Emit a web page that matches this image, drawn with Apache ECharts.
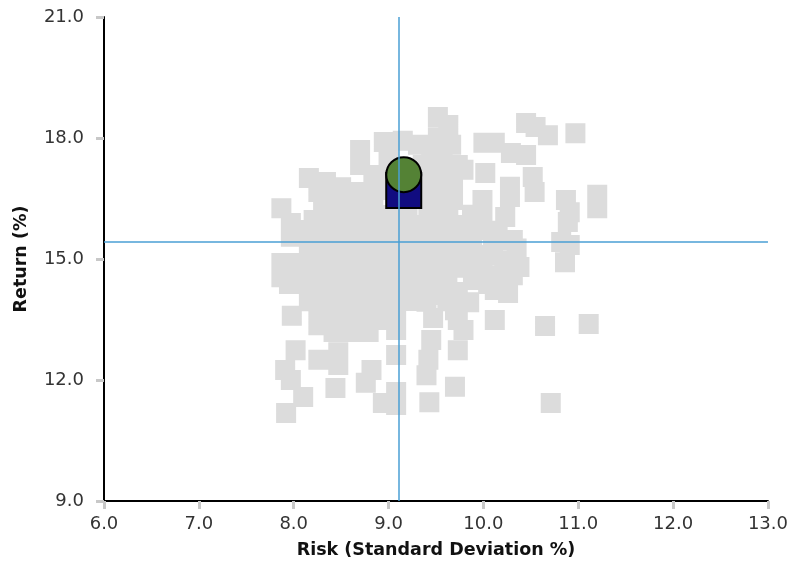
<!DOCTYPE html>
<html>
<head>
<meta charset="utf-8">
<script src="https://cdn.jsdelivr.net/npm/echarts@6/dist/echarts.min.js"></script>
<style>
html,body{margin:0;padding:0;background:#fff;}
#chart{width:791px;height:573px;}
</style>
</head>
<body>
<div id="chart"></div>
<script>
// Peer universe (risk %, return %)
const peerRisk = [
  8.70,8.70,8.95,9.15,9.31,9.52,9.63,9.52,9.66,9.57,9.73,9.36,9.42,9.68,9.31,9.52,9.68,9.42,9.63,9.79,
  9.52,9.29,9.00,8.84,8.87,9.05,8.84,8.58,8.79,8.34,8.16,8.26,7.87,7.97,7.97,8.31,8.52,8.68,8.21,8.42,
  8.63,8.84,8.26,8.47,8.68,8.89,9.10,9.31,9.57,9.79,7.87,8.03,7.87,8.05,8.21,8.42,8.63,8.84,9.05,9.26,
  9.47,9.65,8.26,8.47,8.68,8.89,9.10,9.31,9.52,8.26,8.47,8.68,8.89,9.10,9.31,9.52,9.73,9.89,9.99,9.84,
  8.26,8.47,8.68,8.89,8.26,8.42,8.58,8.79,9.08,9.08,9.47,9.45,9.42,9.40,9.73,9.79,9.73,9.70,7.98,8.02,
  7.91,7.97,8.10,7.92,8.26,8.47,8.47,8.44,8.82,8.76,8.94,9.08,9.08,9.08,9.43,9.70,10.00,10.12,10.45,10.55,
  10.68,10.97,10.29,10.45,10.02,9.79,10.52,10.54,10.28,10.28,9.99,9.99,10.23,9.99,10.15,10.31,10.05,10.26,10.15,10.31,
  10.12,10.26,10.12,10.87,10.91,10.89,11.20,11.20,10.82,10.91,10.86,10.65,11.11,10.71,
  8.37,8.58,9.20,9.55,9.88,
  8.16,8.37,8.58,8.79,9.00,9.20,9.42,9.65,9.88,10.10,
  8.16,8.37,8.58,8.79,9.00,9.20,9.42,9.88,10.10,10.35,
  8.16,8.37,8.58,8.79,9.00,9.20,9.42,9.62,9.80,10.22,10.38,
  7.95,8.16,8.37,8.58,8.79,9.00,9.20,9.42,9.62,10.05,10.20,
  8.16,8.37,8.58,8.79,9.00,9.20,9.40,9.62,9.85,
  8.37,8.58,8.79,8.98,
  8.40,8.50,9.00,9.45,9.60,9.47,9.62,9.22
];
const peerReturn = [
  17.70,17.33,17.90,17.93,17.83,18.52,18.32,18.02,17.83,17.45,17.33,17.33,16.96,16.96,16.59,16.59,16.46,16.21,16.09,15.84,
  15.77,15.84,17.45,17.08,16.71,16.09,16.34,16.66,16.66,16.91,17.01,16.66,16.26,15.89,15.55,16.34,16.34,16.21,15.97,15.97,
  15.84,15.84,15.60,15.52,15.47,15.47,15.47,15.42,15.35,15.42,14.90,14.90,14.55,14.55,15.10,15.10,15.02,15.10,15.02,15.02,
  14.97,15.20,14.68,14.60,14.68,14.60,14.68,14.60,14.53,14.23,14.18,14.23,14.18,14.23,14.18,14.11,14.18,14.48,14.85,15.02,
  13.79,13.73,13.79,13.73,13.36,13.19,13.19,13.19,13.54,13.24,13.54,12.99,12.50,12.12,13.49,13.24,12.74,13.73,13.59,12.74,
  12.25,12.00,11.58,11.18,12.50,12.69,12.37,11.80,12.25,11.93,11.43,11.70,11.38,12.62,11.45,11.83,17.88,17.88,18.37,18.27,
  18.07,18.12,17.63,17.58,17.13,17.21,17.03,16.66,16.79,16.54,16.46,16.16,16.04,15.72,15.55,15.47,15.10,14.97,14.60,14.60,
  14.23,14.16,13.49,16.46,16.16,15.92,16.59,16.26,15.42,15.35,14.92,13.34,13.39,11.43,
  16.15,16.12,16.18,16.20,16.10,
  15.72,15.70,15.74,15.71,15.73,15.70,15.72,15.68,15.74,15.70,
  15.25,15.27,15.24,15.26,15.25,15.23,15.27,15.26,15.24,15.26,
  14.80,14.82,14.79,14.81,14.80,14.83,14.79,14.80,14.78,14.82,14.80,
  14.38,14.36,14.39,14.37,14.38,14.36,14.39,14.37,14.40,14.38,14.35,
  13.95,13.96,13.94,13.97,13.95,13.96,13.94,13.95,13.93,
  13.50,13.48,13.51,13.49,
  16.60,16.78,16.95,17.65,17.15,16.78,16.75,17.15
];
// Highlighted points
const benchmarkPoint = [9.16, 16.70];   // navy square
const portfolioPoint = [9.16, 17.09];   // green circle
// Crosshair (medians)
const medianRisk = 9.11;
const medianReturn = 15.44;
// Axis ticks
const xTicks = [6, 7, 8, 9, 10, 11, 12, 13];
const yTicks = [9, 12, 15, 18, 21];

const peerData = peerRisk.map((r, i) => [r, peerReturn[i]]);
const font = 'DejaVu Sans';

const chart = echarts.init(document.getElementById('chart'), null, {renderer: 'canvas'});
chart.setOption({
  animation: false,
  backgroundColor: '#ffffff',
  grid: {left: 104, right: 20, top: 17, bottom: 72, containLabel: false},
  xAxis: {
    type: 'value',
    min: xTicks[0], max: xTicks[xTicks.length - 1], interval: 1,
    name: 'Risk (Standard Deviation %)',
    nameLocation: 'middle', nameGap: 40,
    nameTextStyle: {fontFamily: font, fontWeight: 'bold', fontSize: 17.5, color: '#111'},
    axisLine: {show: true, onZero: false, lineStyle: {color: '#000', width: 2}},
    axisTick: {show: true, length: 8, lineStyle: {color: '#c8c8c8', width: 3}},
    axisLabel: {margin: 14, fontFamily: font, fontSize: 18, color: '#333', formatter: v => v.toFixed(1)},
    splitLine: {show: false}
  },
  yAxis: {
    type: 'value',
    min: yTicks[0], max: yTicks[yTicks.length - 1], interval: 3,
    name: 'Return (%)',
    nameLocation: 'middle', nameGap: 74,
    nameTextStyle: {fontFamily: font, fontWeight: 'bold', fontSize: 17.5, color: '#111'},
    axisLine: {show: true, onZero: false, lineStyle: {color: '#000', width: 2}},
    axisTick: {show: true, length: 8, lineStyle: {color: '#c8c8c8', width: 3}},
    axisLabel: {margin: 20, fontFamily: font, fontSize: 18, color: '#333', formatter: v => v.toFixed(1)},
    splitLine: {show: false}
  },
  series: [
    {
      type: 'scatter', z: 2,
      large: true, largeThreshold: 1,
      symbol: 'rect', symbolSize: 20,
      itemStyle: {color: '#dcdcdc', opacity: 1},
      emphasis: {disabled: true},
      data: peerData
    },
    {
      type: 'scatter', z: 3,
      symbol: 'rect', symbolSize: 35,
      itemStyle: {color: '#110c80', opacity: 1, borderColor: '#000', borderWidth: 2},
      emphasis: {disabled: true},
      data: [benchmarkPoint]
    },
    {
      type: 'scatter', z: 4,
      symbol: 'circle', symbolSize: 35,
      itemStyle: {color: '#548235', opacity: 1, borderColor: '#000', borderWidth: 2},
      emphasis: {disabled: true},
      data: [portfolioPoint]
    },
    {
      type: 'scatter', z: 5,
      data: [],
      markLine: {
        silent: true, symbol: 'none', animation: false,
        label: {show: false},
        lineStyle: {color: '#4a9fd4', width: 1.5, type: 'solid'},
        data: [{xAxis: medianRisk}, {yAxis: medianReturn}]
      }
    }
  ]
});
</script>
</body>
</html>
